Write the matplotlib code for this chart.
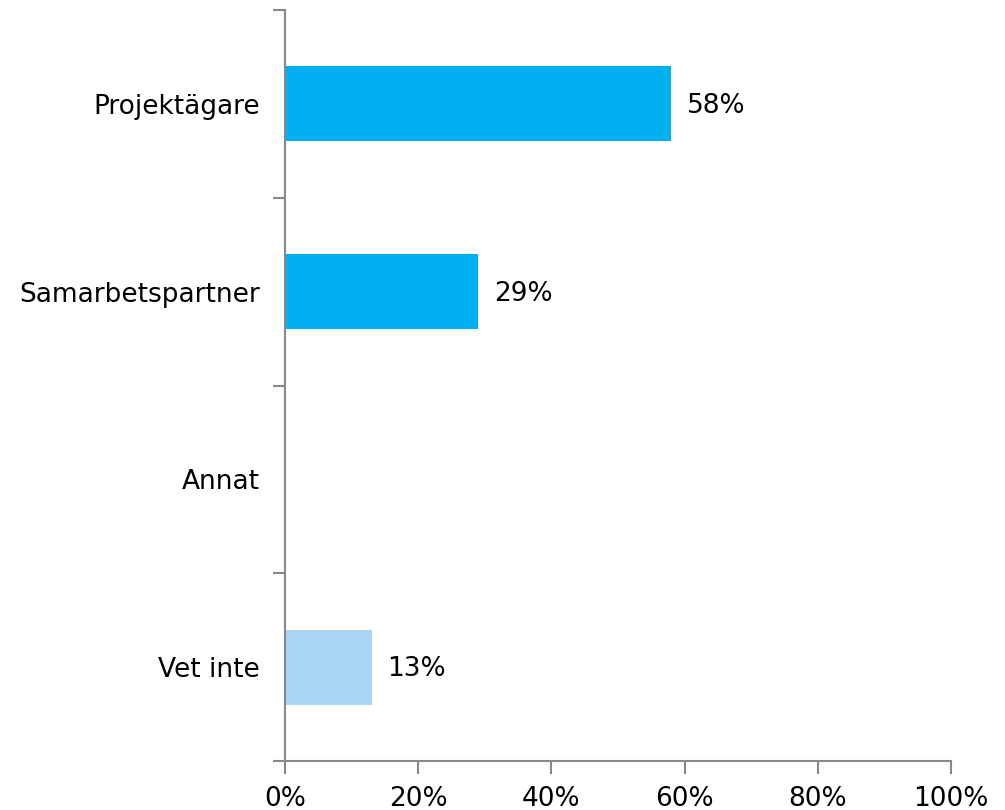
import numpy as np
import matplotlib.pyplot as plt
from matplotlib.ticker import FixedLocator, PercentFormatter

categories = ["Projektägare", "Samarbetspartner", "Annat", "Vet inte"]
values = [58, 29, 0, 13]
value_labels = ["58%", "29%", "", "13%"]
bar_colors = ["#00B0F0", "#00B0F0", "#00B0F0", "#A9D4F4"]
x_ticks = [0, 20, 40, 60, 80, 100]

W, H = 1005, 810
fig = plt.figure(figsize=(W / 100, H / 100), dpi=100)
ax = fig.add_axes([285 / W, (H - 761) / H, (951 - 285) / W, (761 - 10) / H])

pos = np.arange(len(categories))
ax.barh(pos, values, height=0.4, color=bar_colors, zorder=2)

fs = 19
for p, v, lab in zip(pos, values, value_labels):
    if lab:
        ax.text(v + 2.4, p + 0.01, lab, va="center", ha="left", fontsize=fs, color="black")

ax.set_xlim(0, 100)
ax.set_ylim(len(categories) - 0.5, -0.5)

gray = "#888888"
for side in ["top", "right"]:
    ax.spines[side].set_visible(False)
for side in ["left", "bottom"]:
    ax.spines[side].set_color(gray)
    ax.spines[side].set_linewidth(1.5)

ax.set_xticks(x_ticks)
ax.xaxis.set_major_formatter(PercentFormatter(decimals=0))
ax.tick_params(axis="x", direction="out", length=9, width=1.5, color=gray,
               labelsize=fs, pad=9)

ax.set_yticks(pos)
ax.set_yticklabels(categories)
ax.tick_params(axis="y", which="major", length=0, labelsize=fs, pad=18)
ax.yaxis.set_minor_locator(FixedLocator(np.arange(-0.5, len(categories), 1.0)))
ax.tick_params(axis="y", which="minor", direction="out", length=9, width=1.5, color=gray)

fig.savefig("out.png", dpi=100)
